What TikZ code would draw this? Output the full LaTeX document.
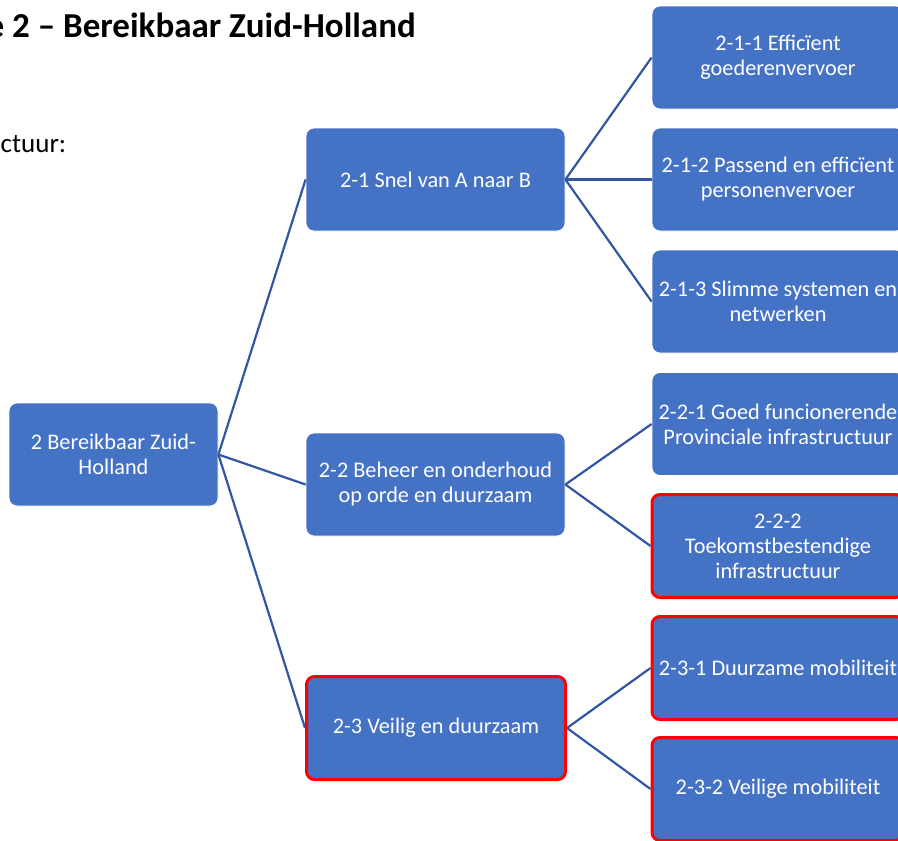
\documentclass[tikz,border=0pt]{standalone}
\usepackage{fontspec}
\setmainfont{Carlito}
\definecolor{boxblue}{RGB}{68,114,196}
\definecolor{lineblue}{RGB}{50,86,163}
\definecolor{hlred}{RGB}{255,0,0}
\begin{document}
\begin{tikzpicture}[x=1pt,y=-1pt,
  box/.style={rectangle, rounded corners=8pt, fill=boxblue, draw=white, line width=0.8pt,
    text=white, font=\fontsize{22.3}{25}\selectfont, align=center, inner sep=0pt},
  rootbox/.style={box, minimum width=209pt, minimum height=103pt},
  midbox/.style={box, minimum width=259pt, minimum height=103pt},
  leafbox/.style={box, minimum width=252pt, minimum height=103pt},
  redline/.style={draw=hlred, line width=3pt},
  conn/.style={draw=lineblue, line width=2.2pt}]
\useasboundingbox (0,0) rectangle (898,841);
\node[anchor=base west, font=\fontsize{35}{40}\selectfont\bfseries, inner sep=0pt] (title) at (-13.5,37) {e 2 – Bereikbaar Zuid-Holland};
\node[anchor=base west, font=\fontsize{27}{32}\selectfont, inner sep=0pt] (sub) at (0.5,152) {ctuur:};

\node[rootbox] (root) at (113.5,454.5) {2 Bereikbaar Zuid-\\Holland};
\node[midbox] (n21) at (435.5,179.5) {2-1 Snel van A naar B};
\node[midbox] (n22) at (435.5,484.5) {2-2 Beheer en onderhoud\\op orde en duurzaam};
\node[midbox, redline] (n23) at (436,728) {2-3 Veilig en duurzaam};

\node[leafbox] (n211) at (778,57.5) {2-1-1 Efficïent\\goederenvervoer};
\node[leafbox] (n212) at (778,179.5) {2-1-2 Passend en efficïent\\personenvervoer};
\node[leafbox] (n213) at (778,301.5) {2-1-3 Slimme systemen en\\netwerken};
\node[leafbox] (n221) at (778,424) {2-2-1 Goed funcionerende\\Provinciale infrastructuur};
\node[leafbox, redline] (n222) at (778,546) {2-2-2\\Toekomstbestendige\\infrastructuur};
\node[leafbox, redline] (n231) at (778,668) {2-3-1 Duurzame mobiliteit};
\node[leafbox, redline] (n232) at (778,789) {2-3-2 Veilige mobiliteit};

\draw[conn] (root.east) -- (n21.west);
\draw[conn] (root.east) -- (n22.west);
\draw[conn] (root.east) -- (n23.west);
\draw[conn] (n21.east) -- (n211.west);
\draw[conn] (n21.east) -- (n212.west);
\draw[conn] (n21.east) -- (n213.west);
\draw[conn] (n22.east) -- (n221.west);
\draw[conn] (n22.east) -- (n222.west);
\draw[conn] (n23.east) -- (n231.west);
\draw[conn] (n23.east) -- (n232.west);
\end{tikzpicture}
\end{document}
